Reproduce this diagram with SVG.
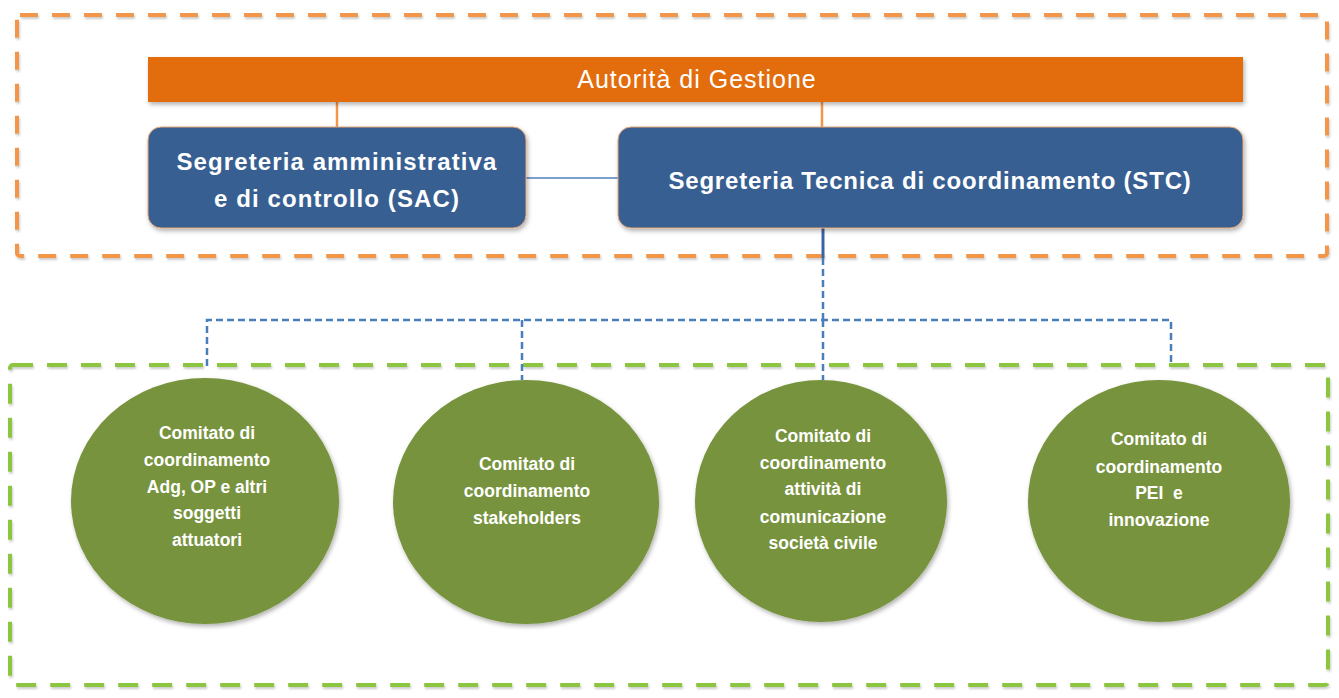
<svg xmlns="http://www.w3.org/2000/svg" width="1339" height="698" viewBox="0 0 1339 698">
<defs>
<filter id="sh" x="-10%" y="-10%" width="120%" height="130%">
<feDropShadow dx="1.5" dy="2.5" stdDeviation="2" flood-color="#000" flood-opacity="0.3"/>
</filter>
<filter id="shl" x="-5%" y="-5%" width="110%" height="110%">
<feDropShadow dx="1" dy="2" stdDeviation="1.2" flood-color="#000" flood-opacity="0.2"/>
</filter>
</defs>
<style>
.frameO{fill:none;stroke:#f4964a;stroke-width:4;stroke-dasharray:18 14}
.frameG{fill:none;stroke:#8cc63f;stroke-width:4;stroke-dasharray:20 14}
.bar{fill:#e36c0a}
.box{fill:#375f92;stroke:#e9a772;stroke-width:1}
.circ{fill:#77933c}
.tw{fill:#ffffff;font-family:"Liberation Sans",Arial,sans-serif;text-anchor:middle}
.tb{font-weight:bold}
.oline{stroke:#f4964a;stroke-width:2.5;fill:none}
.bline{stroke:#4f81bd;stroke-width:1.5;fill:none}
.bsolid{stroke:#3a64a0;stroke-width:3;fill:none}
.bdash{stroke:#4a7ebb;stroke-width:2.5;fill:none;stroke-dasharray:7 4}
</style>
<rect width="1339" height="698" fill="#ffffff"/>
<g id="frames">
<rect class="frameO" x="17" y="15" width="1310" height="241" rx="3" filter="url(#shl)"/>
<rect class="frameG" x="10" y="365" width="1318" height="320" rx="3" filter="url(#shl)"/>
</g>
<g id="connectors">
<line class="oline" x1="337" y1="102" x2="337" y2="127"/>
<line class="oline" x1="822" y1="102" x2="822" y2="127"/>
<line class="bline" x1="526" y1="178" x2="618" y2="178"/>
<line class="bsolid" x1="823" y1="228" x2="823" y2="258"/>
<path class="bdash" d="M823 258 V320"/>
<path class="bdash" d="M207 366 V320 H1171 V366"/>
<path class="bdash" d="M522 320 V380"/>
<path class="bdash" d="M823 320 V380"/>
</g>
<g id="adg">
<rect class="bar" x="148" y="57" width="1095" height="45" filter="url(#sh)"/>
<text class="tw" x="697" y="88" font-size="25" letter-spacing="1">Autorità di Gestione</text>
</g>
<g id="sac">
<rect class="box" x="148" y="127" width="378" height="101" rx="13" filter="url(#sh)"/>
<text class="tw tb" x="337" y="170" font-size="24" letter-spacing="1.1">Segreteria amministrativa</text>
<text class="tw tb" x="337" y="207" font-size="24" letter-spacing="1.1">e di controllo (SAC)</text>
</g>
<g id="stc">
<rect class="box" x="618" y="127" width="625" height="101" rx="13" filter="url(#sh)"/>
<text class="tw tb" x="930" y="189" font-size="24" letter-spacing="0.8">Segreteria Tecnica di coordinamento (STC)</text>
</g>
<g id="c1">
<ellipse class="circ" cx="205" cy="501" rx="134" ry="123" filter="url(#sh)"/>
<text class="tw tb" font-size="17.5"><tspan x="207" y="439">Comitato di</tspan><tspan x="207" y="466">coordinamento</tspan><tspan x="207" y="493">Adg, OP e altri</tspan><tspan x="207" y="519">soggetti</tspan><tspan x="207" y="546">attuatori</tspan></text>
</g>
<g id="c2">
<ellipse class="circ" cx="526" cy="502" rx="133" ry="122" filter="url(#sh)"/>
<text class="tw tb" font-size="17.5"><tspan x="527" y="470">Comitato di</tspan><tspan x="527" y="497">coordinamento</tspan><tspan x="527" y="524">stakeholders</tspan></text>
</g>
<g id="c3">
<ellipse class="circ" cx="821" cy="501" rx="126" ry="121" filter="url(#sh)"/>
<text class="tw tb" font-size="17.5"><tspan x="823" y="442">Comitato di</tspan><tspan x="823" y="469">coordinamento</tspan><tspan x="823" y="495">attività di</tspan><tspan x="823" y="523">comunicazione</tspan><tspan x="823" y="549">società civile</tspan></text>
</g>
<g id="c4">
<ellipse class="circ" cx="1159" cy="501" rx="131" ry="121" filter="url(#sh)"/>
<text class="tw tb" font-size="17.5"><tspan x="1159" y="445">Comitato di</tspan><tspan x="1159" y="473">coordinamento</tspan><tspan x="1159" y="499">PEI&#160; e</tspan><tspan x="1159" y="526">innovazione</tspan></text>
</g>
</svg>
